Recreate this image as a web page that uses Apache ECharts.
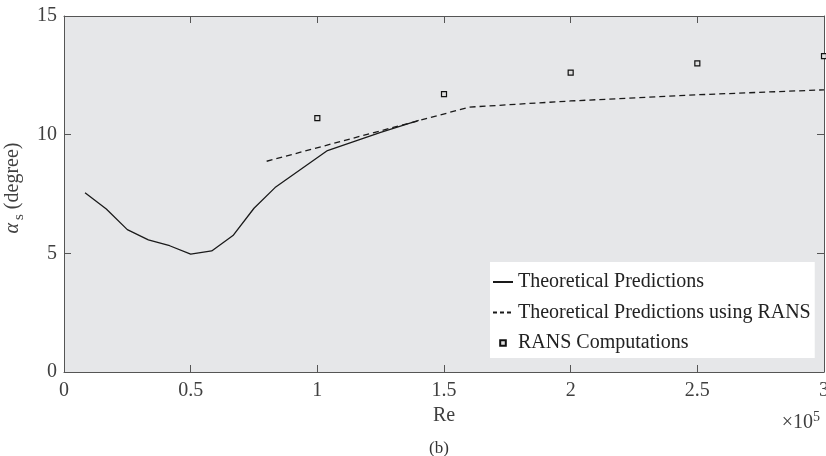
<!DOCTYPE html>
<html>
<head>
<meta charset="utf-8">
<script src="https://cdn.jsdelivr.net/npm/echarts@6/dist/echarts.min.js"></script>
<style>html,body{margin:0;padding:0;background:#fff}#c{width:826px;height:456px}</style>
</head>
<body>
<div id="c"></div>
<script>
// Theoretical Predictions (solid)
const reTheory = [8300, 16700, 25000, 33300, 41700, 50000, 58300, 66700, 75000, 83300, 104000, 125000, 140000];
const alphaTheory = [7.55, 6.87, 6.0, 5.57, 5.32, 4.97, 5.1, 5.75, 6.9, 7.77, 9.33, 10.1, 10.6];
// Theoretical Predictions using RANS (dashed)
const reRans = [80000, 160000, 200000, 250000, 300000];
const alphaRans = [8.88, 11.16, 11.42, 11.68, 11.89];
// RANS Computations (square markers)
const reCfd = [100000, 150000, 200000, 250000, 300000];
const alphaCfd = [10.70, 11.71, 12.61, 13.0, 13.31];
// Axis ticks
const xTicks = [0, 50000, 100000, 150000, 200000, 250000, 300000];
const yTicks = [0, 5, 10, 15];

const FONT = 'Liberation Serif';
const zip = (a, b) => a.map((v, i) => [v, b[i]]);

const chart = echarts.init(document.getElementById('c'), null, {renderer: 'canvas'});
const axisLineStyle = {color: '#555', width: 1};
const tickCommon = {show: true, inside: true, length: 7, lineStyle: {color: '#555', width: 1}};
const hiddenIcon = {color: 'rgba(0,0,0,0)', borderWidth: 0, opacity: 0};

chart.setOption({
  animation: false,
  backgroundColor: '#fff',
  title: [
    {text: '(b)', left: 424, top: 435, textStyle: {fontFamily: FONT, fontSize: 17, fontWeight: 'normal', color: '#333'}},
    {text: '×10{sup|5}', right: 1, top: 405, textStyle: {fontFamily: FONT, fontSize: 20, fontWeight: 'normal', color: '#404040',
      rich: {sup: {fontFamily: FONT, fontSize: 14, color: '#404040', padding: [0, 0, 12, 0]}}}}
  ],
  grid: {left: 64, right: 2, top: 16, bottom: 84, show: true, backgroundColor: '#e6e7e9', borderWidth: 0, containLabel: false, outerBoundsMode: 'none'},
  legend: {
    orient: 'vertical', left: 490, top: 262, padding: [10, 4, 5, 2],
    backgroundColor: '#fff', borderWidth: 0,
    itemWidth: 20, itemHeight: 7, itemGap: 10.5,
    textStyle: {fontFamily: FONT, fontSize: 20, color: '#222'},
    data: [
      {name: 'Theoretical Predictions', itemStyle: hiddenIcon},
      {name: 'Theoretical Predictions using RANS', itemStyle: hiddenIcon, lineStyle: {type: [4, 3]}},
      {name: 'RANS Computations'}
    ]
  },
  xAxis: [{
    type: 'value', min: 0, max: 300000, interval: 50000,
    axisLine: {show: true, onZero: false, lineStyle: axisLineStyle},
    axisTick: tickCommon,
    splitLine: {show: false},
    axisLabel: {margin: 9, fontFamily: FONT, fontSize: 20, color: '#404040', formatter: v => String(v / 100000)},
    name: 'Re', nameLocation: 'middle', nameGap: 32,
    nameTextStyle: {fontFamily: FONT, fontSize: 20, color: '#404040'}
  }, {
    type: 'value', position: 'top', min: 0, max: 300000, interval: 50000,
    axisLine: {show: true, onZero: false, lineStyle: axisLineStyle},
    axisTick: tickCommon, axisLabel: {show: false}, splitLine: {show: false}
  }],
  yAxis: [{
    type: 'value', min: 0, max: 15, interval: 5,
    axisLine: {show: true, onZero: false, lineStyle: axisLineStyle},
    axisTick: tickCommon,
    splitLine: {show: false},
    axisLabel: {margin: 7, fontFamily: FONT, fontSize: 20, color: '#404040'},
    name: '{a|α}{s|s}{d| (degree)}', nameLocation: 'middle', nameRotate: 90, nameGap: 36,
    nameTextStyle: {fontFamily: FONT, fontSize: 20, color: '#404040', padding: [0, 0, 0, 12],
      rich: {
        a: {fontFamily: FONT, fontStyle: 'italic', fontSize: 20, color: '#404040'},
        s: {fontFamily: FONT, fontSize: 15, color: '#404040', padding: [12, 0, 0, 3]},
        d: {fontFamily: FONT, fontSize: 20, color: '#404040'}
      }}
  }, {
    type: 'value', position: 'right', min: 0, max: 15, interval: 5,
    axisLine: {show: true, onZero: false, lineStyle: axisLineStyle},
    axisTick: tickCommon, axisLabel: {show: false}, splitLine: {show: false}
  }],
  series: [{
    name: 'Theoretical Predictions', type: 'line', data: zip(reTheory, alphaTheory),
    symbol: 'none', lineStyle: {color: '#1a1a1a', width: 1.3}, itemStyle: {color: '#1a1a1a'}
  }, {
    name: 'Theoretical Predictions using RANS', type: 'line', data: zip(reRans, alphaRans),
    symbol: 'none', lineStyle: {color: '#1a1a1a', width: 1.3, type: [6, 4]}, itemStyle: {color: '#1a1a1a'}
  }, {
    name: 'RANS Computations', type: 'line', data: zip(reCfd, alphaCfd),
    symbol: 'rect', symbolSize: 5, clip: false,
    lineStyle: {opacity: 0, width: 0},
    itemStyle: {color: '#e0e0e0', borderColor: '#111', borderWidth: 1.2}
  }]
});
</script>
</body>
</html>
